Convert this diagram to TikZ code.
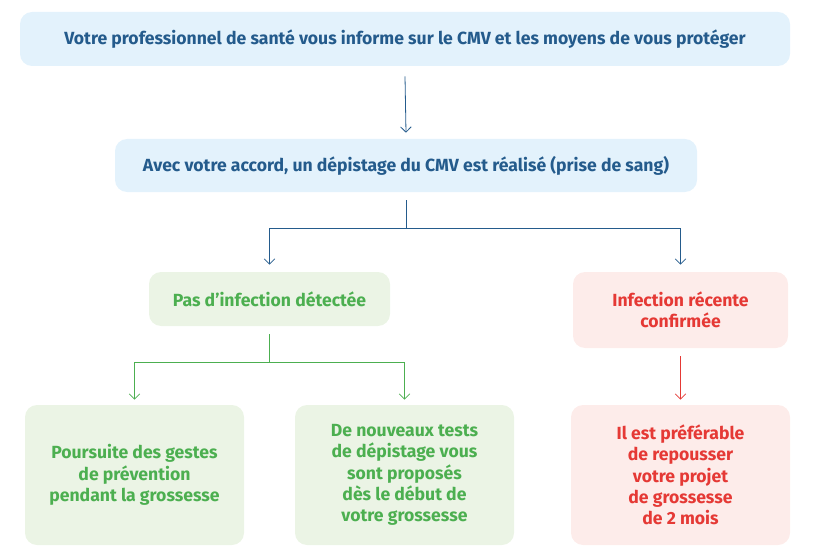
\documentclass[tikz,border=0pt]{standalone}
\usepackage{fontspec}
\setmainfont{Fira Sans}
\usetikzlibrary{positioning,calc,arrows.meta}
\definecolor{bluefill}{HTML}{E3F2FC}
\definecolor{bluetext}{HTML}{245B8C}
\definecolor{greenfill}{HTML}{EBF4E5}
\definecolor{greentext}{HTML}{4CAF50}
\definecolor{redfill}{HTML}{FDECEA}
\definecolor{redtext}{HTML}{E53935}
\begin{document}
\begin{tikzpicture}[x=0.75pt,y=-0.75pt,font=\fontsize{13.2}{16}\selectfont\bfseries]
\tikzset{box/.style={rounded corners=9pt,align=center,inner sep=0pt},
  blue/.style={box,fill=bluefill,text=bluetext},
  green/.style={box,fill=greenfill,text=greentext},
  red/.style={box,fill=redfill,text=redtext},
  arr/.style={-{Straight Barb[length=4pt,width=8pt]},semithick}};
   \useasboundingbox (0,0) rectangle (817,556);

   \node[blue,minimum width=770*0.75pt,minimum height=54*0.75pt] at (405,39) (info) {Votre professionnel de santé vous informe sur le CMV et les moyens de vous protéger};
   \node[blue,minimum width=582*0.75pt,minimum height=53*0.75pt] at (406,165.5) (test) {Avec votre accord, un dépistage du CMV est réalisé (prise de sang)};
   \node[green,minimum width=241*0.75pt,minimum height=54*0.75pt] at (269.5,299) (neg) {Pas d’infection détectée};
   \node[red,minimum width=215*0.75pt,minimum height=76*0.75pt] at (680.5,310) (pos) {Infection récente\\confirmée};
   \node[green,minimum width=219*0.75pt,minimum height=140*0.75pt] at (134.5,475) (gestes) {Poursuite des gestes\\de prévention\\pendant la grossesse};
   \node[green,minimum width=219*0.75pt,minimum height=140*0.75pt] at (404.5,475) (tests) {De nouveaux tests\\de dépistage vous\\sont proposés\\dès le début de\\votre grossesse};
   \node[red,minimum width=219*0.75pt,minimum height=140*0.75pt] at (680.5,475) (report) {Il est préférable\\de repousser\\votre projet\\de grossesse\\de 2 mois};

   \draw[arr,bluetext] ([yshift=-10*0.75pt]info.south) -- ([yshift=6*0.75pt]test.north);
   \coordinate (split) at ($(test.south)+(0,36)$);
   \draw[bluetext,semithick] ([yshift=-8*0.75pt]test.south) -- (split);
   \draw[arr,bluetext] (split) -| ([yshift=7*0.75pt]neg.north);
   \draw[arr,bluetext] (split) -| ([yshift=7*0.75pt]pos.north);
   \coordinate (split2) at ($(neg.south)+(0,36)$);
   \draw[greentext,semithick] ([yshift=-8*0.75pt]neg.south) -- (split2);
   \draw[arr,greentext] (split2) -| ([yshift=5*0.75pt]gestes.north);
   \draw[arr,greentext] (split2) -| ([yshift=5*0.75pt]tests.north);
   \draw[arr,redtext] ([yshift=-8*0.75pt]pos.south) -- ([yshift=5*0.75pt]report.north);
\end{tikzpicture}
\end{document}
